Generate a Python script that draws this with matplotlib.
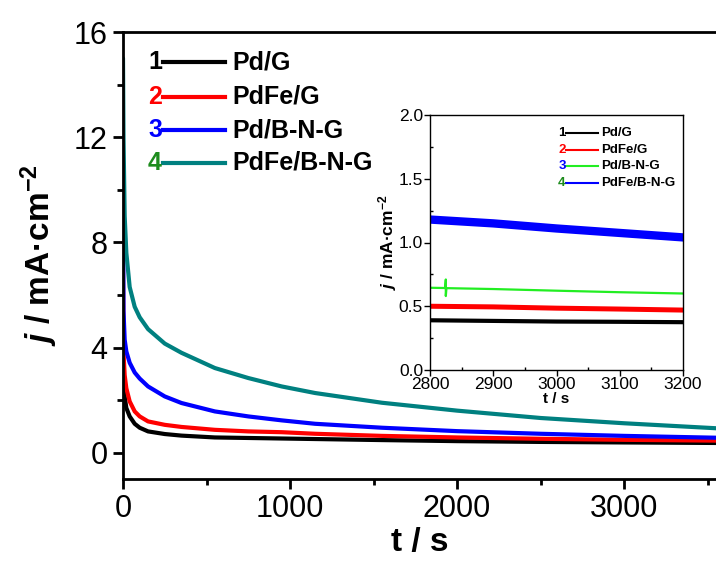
import matplotlib
matplotlib.use("Agg")
import matplotlib.pyplot as plt
from matplotlib.ticker import MultipleLocator
from matplotlib.lines import Line2D

plt.rcParams['font.family'] = ['Liberation Sans', 'DejaVu Sans']
plt.rcParams['mathtext.fontset'] = 'custom'
plt.rcParams['mathtext.rm'] = 'Liberation Sans:bold'
plt.rcParams['mathtext.bf'] = 'Liberation Sans:bold'
plt.rcParams['mathtext.it'] = 'Liberation Sans:bold:italic'

# ---------------- data ----------------
names = ["Pd/G", "PdFe/G", "Pd/B-N-G", "PdFe/B-N-G"]
numbers = ["1", "2", "3", "4"]
main_colors = ["#000000", "#ff0000", "#0000ff", "#008080"]
num_colors = ["#000000", "#ff0000", "#0000ff", "#1e8c1e"]

t_main = [0, 3, 10, 20, 40, 70, 100, 150, 250, 350, 550, 750, 950, 1150, 1550, 2000, 2500, 3000, 3550]
j_pdg = [3.6, 2.8, 2.14, 1.7, 1.38, 1.1, 0.95, 0.81, 0.71, 0.65, 0.58, 0.56, 0.54, 0.52,
         0.48, 0.44, 0.41, 0.39, 0.37]
j_pdfeg = [7.0, 3.8, 2.95, 2.45, 1.95, 1.57, 1.38, 1.19, 1.06, 0.98, 0.87, 0.81, 0.78, 0.72,
           0.64, 0.58, 0.53, 0.49, 0.46]
j_pdbng = [10.0, 5.4, 4.3, 3.85, 3.42, 3.05, 2.82, 2.52, 2.14, 1.89, 1.57, 1.38, 1.23, 1.10,
           0.95, 0.82, 0.72, 0.64, 0.57]
j_pdfebng = [15.0, 12.0, 9.0, 7.6, 6.3, 5.55, 5.15, 4.7, 4.15, 3.8, 3.22, 2.84, 2.52, 2.27,
             1.9, 1.6, 1.32, 1.12, 0.93]

t_in = [2800, 2900, 3000, 3100, 3200]
jin_black = [0.39, 0.385, 0.38, 0.378, 0.375]
jin_red = [0.50, 0.495, 0.485, 0.478, 0.47]
t_in_green = [2800, 2824, 2825, 2825, 2826, 2900, 3000, 3100, 3200]
jin_green = [0.645, 0.643, 0.71, 0.58, 0.642, 0.635, 0.622, 0.61, 0.60]
jin_blue = [1.18, 1.15, 1.11, 1.075, 1.04]
inset_line_colors = ["#000000", "#ff0000", "#22ee22", "#0000ff"]
inset_num_colors = ["#000000", "#ff0000", "#0000ff", "#1e8c1e"]

# ---------------- figure ----------------
fig = plt.figure(figsize=(7.16, 5.65), dpi=100)
ax = fig.add_axes([123/716, 1-479/565, (716-123)/716, (479-32)/565])

for j, c in zip([j_pdg, j_pdfeg, j_pdbng, j_pdfebng], main_colors):
    ax.plot(t_main, j, color=c, lw=3.0, solid_joinstyle='round', solid_capstyle='round')

ax.set_xlim(0, 3550)
ax.set_ylim(-1, 16)
ax.xaxis.set_major_locator(MultipleLocator(1000))
ax.xaxis.set_minor_locator(MultipleLocator(500))
ax.yaxis.set_major_locator(MultipleLocator(4))
ax.yaxis.set_minor_locator(MultipleLocator(2))
ax.tick_params(which='both', direction='out', width=2, labelsize=22, top=False, right=False)
ax.tick_params(which='major', length=7, pad=4)
ax.tick_params(which='minor', length=4)
for s in ['left', 'bottom', 'top']:
    ax.spines[s].set_linewidth(2)
ax.spines['right'].set_visible(False)

ax.set_xlabel("t / s", fontsize=24, fontweight='bold', labelpad=2)
ax.set_ylabel(r"$j$ / mA·cm$^{-2}$", fontsize=24, fontweight='bold', labelpad=10)

# main legend (manual, numbered)
leg_y = [62, 97, 130, 163]
for k in range(4):
    yf = 1 - (leg_y[k] - 32) / (479 - 32)
    ax.text((155-123)/593, yf, numbers[k], transform=ax.transAxes, color=num_colors[k],
            fontsize=18, fontweight='bold', ha='center', va='center')
    ax.add_line(Line2D([(163-123)/593, (225-123)/593], [yf, yf], transform=ax.transAxes,
                       color=main_colors[k], lw=3.0))
    ax.text((232-123)/593, yf, names[k], transform=ax.transAxes, color='black',
            fontsize=18, fontweight='bold', ha='left', va='center')

# ---------------- inset ----------------
axi = fig.add_axes([430/716, 1-370/565, (683-430)/716, (370-115)/565])
axi.plot(t_in, jin_black, color=inset_line_colors[0], lw=3.0)
axi.plot(t_in, jin_red, color=inset_line_colors[1], lw=3.6)
axi.plot(t_in_green, jin_green, color=inset_line_colors[2], lw=1.6)
axi.plot(t_in, jin_blue, color=inset_line_colors[3], lw=6.0)

axi.set_xlim(2800, 3200)
axi.set_ylim(0, 2)
axi.xaxis.set_major_locator(MultipleLocator(100))
axi.xaxis.set_minor_locator(MultipleLocator(50))
axi.yaxis.set_major_locator(MultipleLocator(0.5))
axi.yaxis.set_minor_locator(MultipleLocator(0.25))
axi.tick_params(which='major', direction='out', length=4, width=1, labelsize=12.5, pad=1)
axi.tick_params(which='minor', direction='in', length=2.5, width=1)
for s in axi.spines.values():
    s.set_linewidth(1)
axi.set_xlabel("t / s", fontsize=11, fontweight='bold', labelpad=0)
axi.set_ylabel(r"$j$ / mA·cm$^{-2}$", fontsize=12.5, fontweight='bold', labelpad=0)

in_leg_y = [133, 150, 166, 183]
for k in range(4):
    yf = 1 - (in_leg_y[k] - 115) / (370 - 115)
    axi.text((562-430)/253, yf, numbers[k], transform=axi.transAxes, color=inset_num_colors[k],
             fontsize=9.5, fontweight='bold', ha='center', va='center')
    axi.add_line(Line2D([(566-430)/253, (598-430)/253], [yf, yf], transform=axi.transAxes,
                        color=inset_line_colors[k], lw=1.5))
    axi.text((601-430)/253, yf, names[k], transform=axi.transAxes, color='black',
             fontsize=9.5, fontweight='bold', ha='left', va='center')

fig.savefig("out.png", dpi=100)
